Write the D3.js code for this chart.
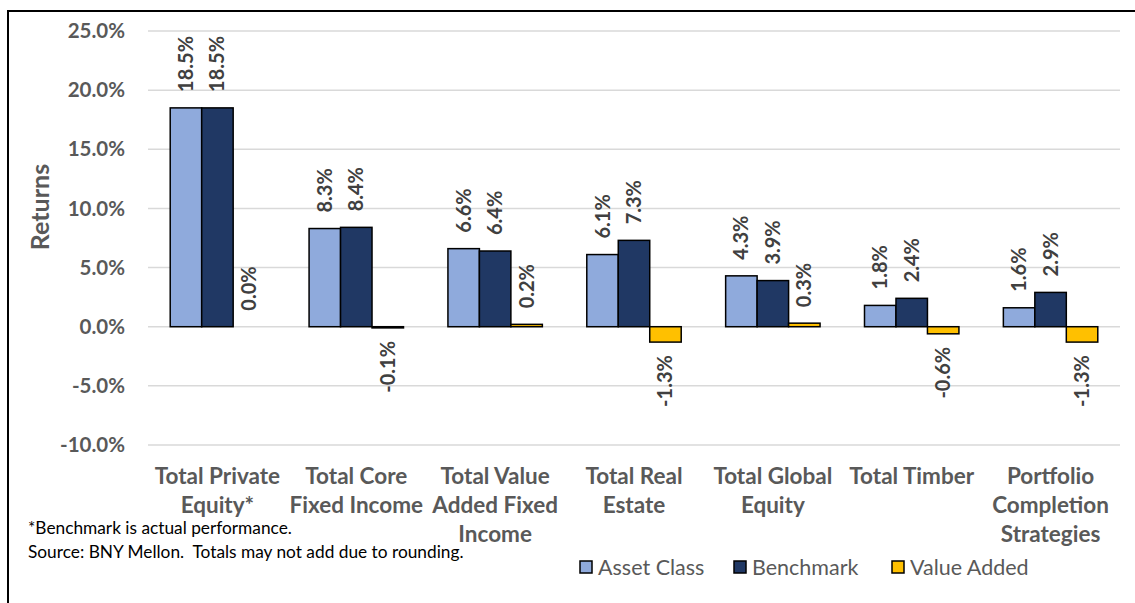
<!DOCTYPE html>
<html>
<head>
<meta charset="utf-8">
<script src="https://cdn.jsdelivr.net/npm/d3@7"></script>
<style>
body {margin:0; background:#fff;}
text {font-family: Lato, 'Open Sans', sans-serif;}
.grid line {stroke:#d9d9d9; stroke-width:1.5;}
.tick-lbl {font-weight:bold; font-size:20.5px; fill:#595959;}
.val {font-weight:bold; font-size:20px; fill:#404040;}
.cat {font-weight:bold; font-size:22.5px; fill:#595959;}
.leg {font-size:21.5px; fill:#595959;}
.note {font-size:17.3px; fill:#000;}
</style>
</head>
<body>
<script>
var categories = [
  ['Total Private', 'Equity*'],
  ['Total Core', 'Fixed Income'],
  ['Total Value', 'Added Fixed', 'Income'],
  ['Total Real', 'Estate'],
  ['Total Global', 'Equity'],
  ['Total Timber'],
  ['Portfolio', 'Completion', 'Strategies']
];
var seriesNames = ['Asset Class', 'Benchmark', 'Value Added'];
var assetClass = [18.5, 8.3, 6.6, 6.1, 4.3, 1.8, 1.6];
var benchmark  = [18.5, 8.4, 6.4, 7.3, 3.9, 2.4, 2.9];
var valueAdded = [0.0, -0.1, 0.2, -1.3, 0.3, -0.6, -1.3];
var yTicks = [-10, -5, 0, 5, 10, 15, 20, 25];
var colors = ['#8faadc', '#203864', '#ffc000'];

// percent with a plain hyphen for negatives
var pct = function(v){return v.toFixed(1) + '%';};

var svg = d3.select('body').append('svg')
  .attr('width', 1135).attr('height', 603);

// frame (cut off at right and bottom)
svg.append('path')
  .attr('d', 'M8,603 L8,11 L1135,11')
  .attr('fill', 'none').attr('stroke', '#000').attr('stroke-width', 2);

var y = d3.scaleLinear().domain([-10, 25]).range([445, 31]);
var x = d3.scaleBand().domain(d3.range(categories.length))
  .range([148, 1120]).paddingInner(0.32).paddingOuter(0.16);
var xs = d3.scaleBand().domain(d3.range(3)).range([0, x.bandwidth()]);

// gridlines
svg.append('g').attr('class', 'grid')
  .selectAll('line').data(yTicks).enter().append('line')
  .attr('x1', 148).attr('x2', 1120)
  .attr('y1', function(d){return y(d);}).attr('y2', function(d){return y(d);});

// y axis labels
svg.append('g').selectAll('text').data(yTicks).enter().append('text')
  .attr('class', 'tick-lbl')
  .attr('x', 125).attr('y', function(d){return y(d);})
  .attr('dy', '0.35em').style('text-anchor', 'end')
  .text(function(d){return pct(d);});

svg.append('text')
  .attr('class', 'tick-lbl')
  .attr('transform', 'translate(40,207)rotate(-90)')
  .attr('dy', '0.35em')
  .style('text-anchor', 'middle').style('font-size', '25px')
  .text('Returns');

var rows = [];
categories.forEach(function(c, i){
  [assetClass[i], benchmark[i], valueAdded[i]].forEach(function(v, s){
    rows.push({c: i, s: s, v: v});
  });
});

var bars = svg.append('g').selectAll('g').data(rows).enter().append('g');

bars.append('rect')
  .attr('x', function(d){return x(d.c) + xs(d.s);})
  .attr('width', xs.bandwidth())
  .attr('y', function(d){return d.v >= 0 ? y(d.v) : y(0);})
  .attr('height', function(d){return Math.abs(y(d.v) - y(0));})
  .attr('fill', function(d){return colors[d.s];})
  .attr('stroke', '#000').attr('stroke-width', 1.5);

bars.append('text')
  .attr('class', 'val')
  .attr('transform', function(d){
    var cx = x(d.c) + xs(d.s) + xs.bandwidth() / 2;
    var cy = d.v >= 0 ? y(d.v) - 16 : y(d.v) + 13;
    return 'translate(' + cx + ',' + cy + ')rotate(-90)';
  })
  .attr('dy', '0.35em')
  .style('text-anchor', function(d){return d.v >= 0 ? 'start' : 'end';})
  .text(function(d){return pct(d.v);});

// category labels
var cat = svg.append('g').selectAll('text').data(categories).enter().append('text')
  .attr('class', 'cat')
  .attr('x', function(d, i){return x(i) + x.bandwidth() / 2;})
  .attr('y', 484)
  .style('text-anchor', 'middle');
cat.selectAll('tspan').data(function(d){return d;}).enter().append('tspan')
  .attr('x', function(){return d3.select(this.parentNode).attr('x');})
  .attr('dy', function(d, i){return i === 0 ? 0 : 29;})
  .text(function(d){return d;});

// legend
var legX = [580, 734, 892];
var leg = svg.append('g').selectAll('g').data(seriesNames).enter().append('g')
  .attr('transform', function(d, i){return 'translate(' + legX[i] + ',567)';});
leg.append('rect')
  .attr('x', 0).attr('y', -6).attr('width', 12).attr('height', 12)
  .attr('fill', function(d, i){return colors[i];})
  .attr('stroke', '#000').attr('stroke-width', 1.5);
leg.append('text')
  .attr('class', 'leg')
  .attr('x', 18).attr('dy', '0.35em')
  .text(function(d){return d;});

// footnotes
svg.append('text').attr('class', 'note').attr('x', 28).attr('y', 534)
  .text('*Benchmark is actual performance.');
svg.append('text').attr('class', 'note').attr('x', 28).attr('y', 558)
  .attr('xml:space', 'preserve')
  .text('Source: BNY Mellon.  Totals may not add due to rounding.');
</script>
</body>
</html>
